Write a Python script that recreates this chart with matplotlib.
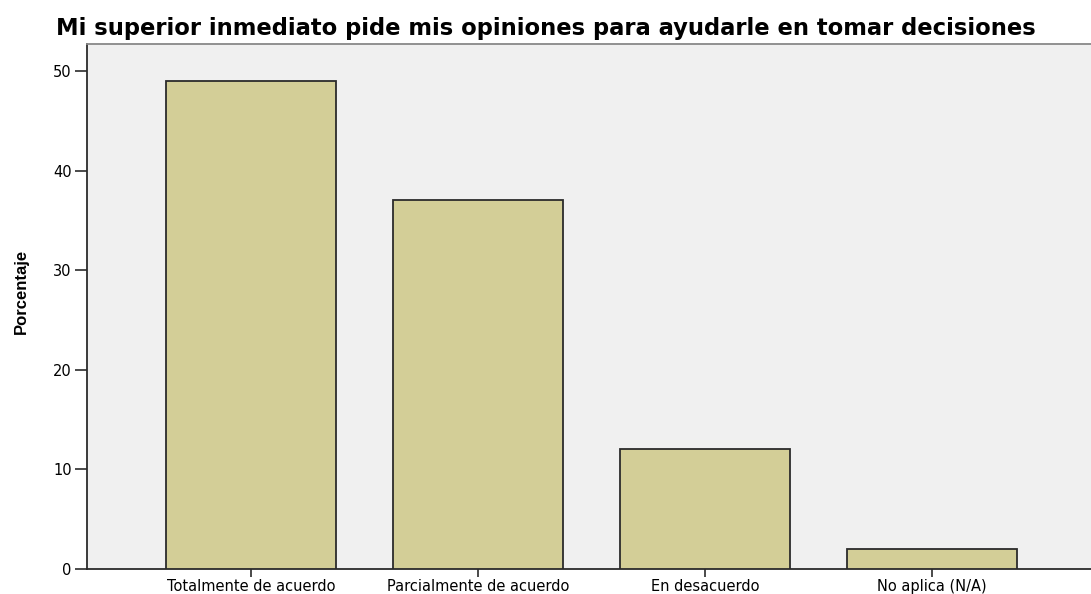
import matplotlib.pyplot as plt
import numpy as np

# datos
categorias = ['Totalmente de acuerdo', 'Parcialmente de acuerdo', 'En desacuerdo', 'No aplica (N/A)']
porcentajes = [49, 37, 12, 2]
yticks = [0, 10, 20, 30, 40, 50]

plt.rcParams['font.family'] = ['DejaVu Sans']

fig = plt.figure(figsize=(10.91, 5.94), dpi=100)
ax = fig.add_axes([87 / 1091, 1 - 569 / 594, (1091 - 87) / 1091, (569 - 44) / 594])
ax.set_facecolor('#f0f0f0')

x = np.arange(len(categorias))
ax.bar(x, porcentajes, width=0.75, color='#d3ce97', edgecolor='#2b2b2b', linewidth=1.3, zorder=3)

ax.set_xlim(-0.722, 3.70)
ax.set_ylim(0, 52.7)
ax.set_xticks(x)
ax.set_xticklabels(categorias, fontsize=10.5)
ax.set_yticks(yticks)
ax.tick_params(axis='y', length=9, width=1.2, labelsize=10.5, color='#2b2b2b', pad=2)
ax.tick_params(axis='x', length=6, width=1.2, color='#2b2b2b', pad=1)

for s in ['left', 'bottom']:
    ax.spines[s].set_color('#2b2b2b')
    ax.spines[s].set_linewidth(1.3)
ax.spines['top'].set_color('#888888')
ax.spines['top'].set_linewidth(1.3)
ax.spines['right'].set_visible(False)

ax.set_ylabel('Porcentaje', fontsize=12, fontweight='bold',
              family=['Liberation Sans Narrow', 'Liberation Sans', 'DejaVu Sans'])
ax.yaxis.set_label_coords(-0.058, 0.528)

fig.text(0.5, 1 - 35 / 594, 'Mi superior inmediato pide mis opiniones para ayudarle en tomar decisiones',
         ha='center', va='baseline', fontsize=16.3, fontweight='bold')

fig.savefig('out.png', dpi=100)
